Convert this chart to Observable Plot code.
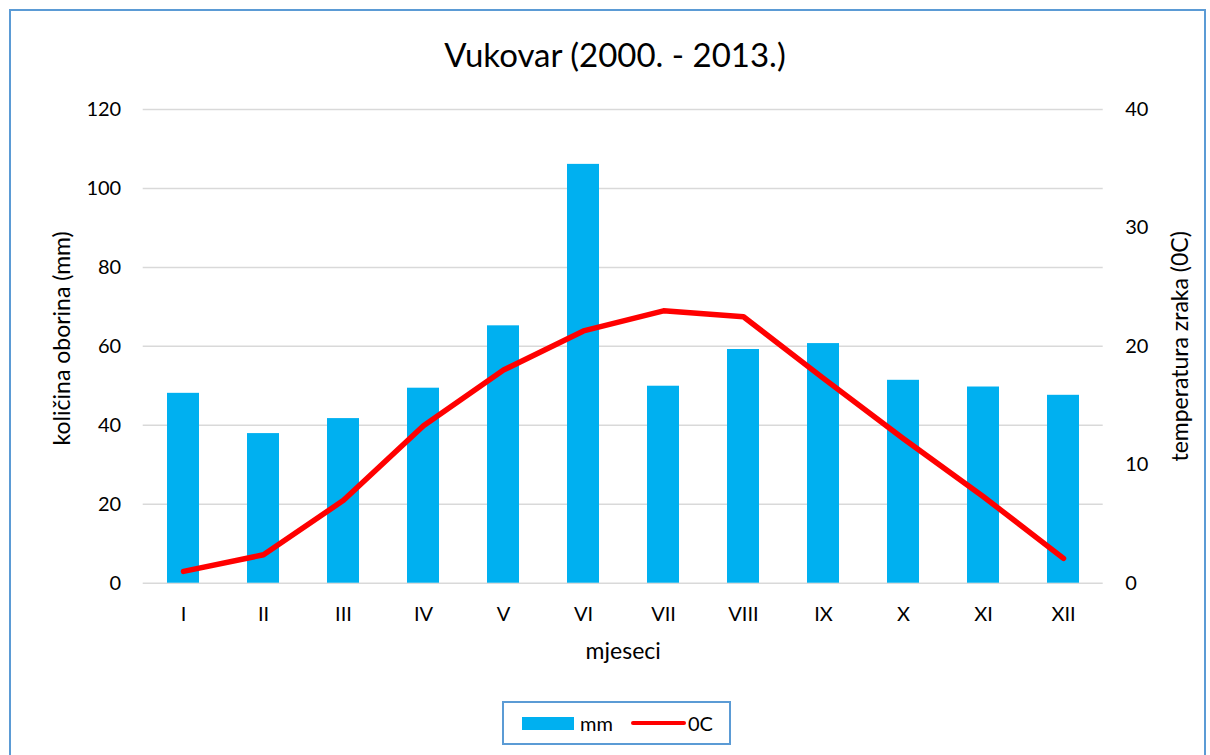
<!DOCTYPE html>
<html>
<head>
<meta charset="utf-8">
<script src="https://cdn.jsdelivr.net/npm/d3@7"></script>
<script src="https://cdn.jsdelivr.net/npm/@observablehq/plot@0.6"></script>
<style>
  body { margin: 0; background: #fff; }
  #wrap { position: relative; width: 1210px; height: 755px; overflow: hidden; font-family: Lato, "Open Sans", sans-serif; color: #000; }
  #frame { position: absolute; left: 9px; top: 9px; width: 1197px; height: 800px; border: 2px solid #5B9BD5; pointer-events: none; box-sizing: border-box; }
  #title { position: absolute; left: 0; top: 34px; width: 1230px; text-align: center; font-size: 33px; line-height: 40px; }
  #chart { position: absolute; left: 0; top: 90px; }
  #legend { position: absolute; left: 502px; top: 701px; width: 229px; height: 44px; border: 2px solid #5B9BD5; box-sizing: border-box; display: flex; align-items: center; font-size: 20px; }
  .sw { display: inline-block; }
</style>
</head>
<body>
<div id="wrap">
  <div id="title">Vukovar (2000. - 2013.)</div>
  <div id="chart"></div>
  <div id="legend">
    <span class="sw" style="margin-left:18px;width:52px;height:13px;background:#00B0F0"></span>
    <span style="margin-left:6px">mm</span>
    <span class="sw" style="margin-left:18px;width:55px;height:4px;border-radius:2px;background:#FF0000"></span>
    <span style="margin-left:2px">0C</span>
  </div>
  <div id="frame"></div>
</div>
<script>
const months = ["I", "II", "III", "IV", "V", "VI", "VII", "VIII", "IX", "X", "XI", "XII"];
const precipitation = [48.1, 37.9, 41.7, 49.4, 65.2, 106.1, 49.9, 59.2, 60.7, 51.4, 49.7, 47.6];
const temperature = [1.0, 2.4, 7.0, 13.3, 18.0, 21.3, 23.0, 22.5, 17.3, 12.2, 7.3, 2.1];
const leftTicks = [0, 20, 40, 60, 80, 100, 120];
const rightTicks = [0, 10, 20, 30, 40];
const ratio = 120 / 40;

const data = months.map((m, i) => ({month: m, mm: precipitation[i], t: temperature[i]}));

const chart = Plot.plot({
  width: 1210,
  height: 600,
  marginLeft: 142.7,
  marginRight: 107.3,
  marginTop: 19,
  marginBottom: 107.3,
  style: {fontFamily: "Lato, 'Open Sans', sans-serif", fontSize: "20px", color: "#000", background: "transparent", overflow: "visible"},
  x: {domain: months, paddingInner: 0.6, paddingOuter: 0.3},
  y: {domain: [0, 120]},
  marks: [
    Plot.gridY(leftTicks, {stroke: "#d9d9d9", strokeOpacity: 1, strokeWidth: 1.5}),
    Plot.barY(data, {x: "month", y: "mm", fill: "#00B0F0"}),
    Plot.lineY(data, {x: "month", y: d => d.t * ratio, stroke: "#FF0000", strokeWidth: 5.5, strokeLinecap: "round", strokeLinejoin: "round"}),
    Plot.axisY(leftTicks, {anchor: "left", tickSize: 0, tickPadding: 22, label: null, fontSize: 20}),
    Plot.axisY(rightTicks.map(d => d * ratio), {anchor: "right", tickSize: 0, tickPadding: 22, tickFormat: d => d / ratio, label: null, fontSize: 20}),
    Plot.axisX({tickSize: 0, tickPadding: 24, label: null, fontSize: 20}),
    Plot.text(["količina oborina (mm)"], {frameAnchor: "left", textAnchor: "middle", rotate: -90, dx: -81, dy: -8, fontSize: 23}),
    Plot.text(["temperatura zraka (0C)"], {frameAnchor: "right", textAnchor: "middle", rotate: -90, dx: 77, dy: 0, fontSize: 23}),
    Plot.text(["mjeseci"], {frameAnchor: "bottom", dy: 76, fontSize: 23})
  ]
});
document.getElementById("chart").appendChild(chart);
</script>
</body>
</html>
